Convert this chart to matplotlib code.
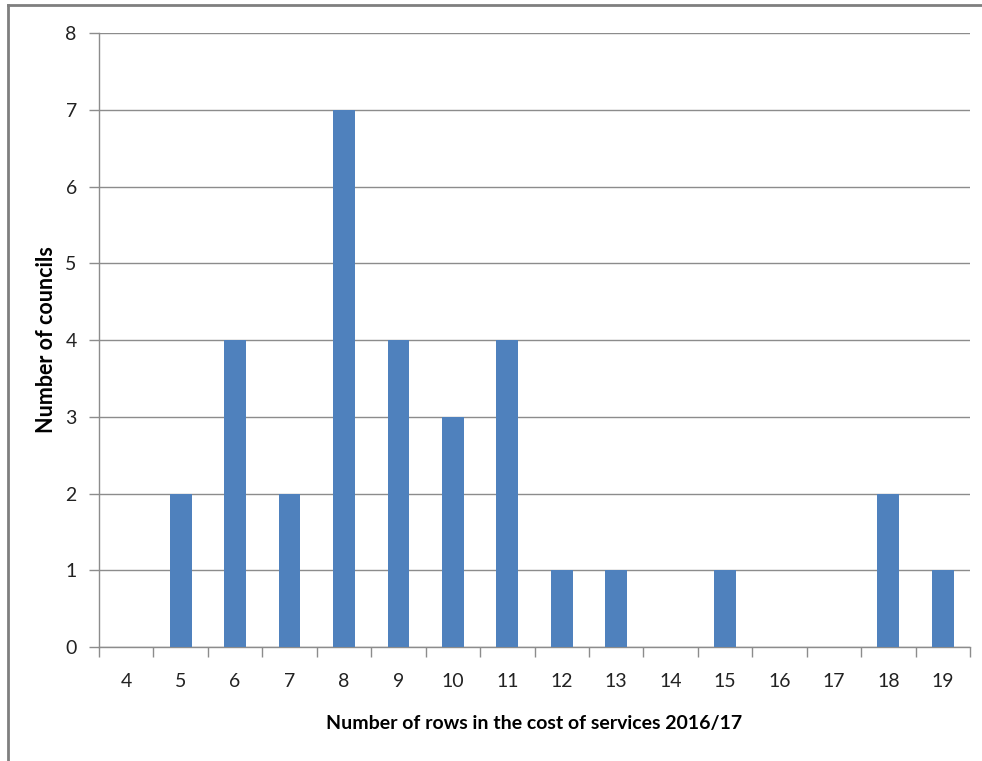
import matplotlib.pyplot as plt
import numpy as np

# rows in the cost of services table -> number of councils
rows = ['4', '5', '6', '7', '8', '9', '10', '11', '12', '13', '14', '15', '16', '17', '18', '19']
councils = [0, 2, 4, 2, 7, 4, 3, 4, 1, 1, 0, 1, 0, 0, 2, 1]

plt.rcParams['font.family'] = ['Lato', 'DejaVu Sans']

fig = plt.figure(figsize=(9.82, 7.61), dpi=100)
ax = fig.add_axes([0.1008, 0.1498, 0.8870, 0.8068])

x = np.arange(len(rows))
ax.bar(x, councils, width=0.4, color='#4f81bd', zorder=3)

grey = '#8c8c8c'
ax.set_xlim(-0.5, len(rows) - 0.5)
ax.set_ylim(0, 8)
ax.set_yticks(range(0, 9))
ax.yaxis.grid(True, color=grey, linewidth=1.0, zorder=0)

# ticks on the category boundaries, labels in the middle
ax.set_xticks(np.arange(-0.5, len(rows), 1.0))
ax.set_xticklabels([])
ax.set_xticks(x, minor=True)
ax.set_xticklabels(rows, minor=True)
ax.tick_params(axis='x', which='major', length=7, color=grey, width=1)
ax.tick_params(axis='x', which='minor', length=0, pad=19, labelsize=14, labelcolor='#222222')
ax.tick_params(axis='y', length=7, color=grey, width=1, pad=9, labelsize=14, labelcolor='#222222')

for side in ['top', 'right']:
    ax.spines[side].set_visible(False)
for side in ['left', 'bottom']:
    ax.spines[side].set_color(grey)
    ax.spines[side].set_linewidth(1.0)

ax.set_xlabel('Number of rows in the cost of services 2016/17', fontsize=14,
              fontweight='bold', labelpad=18)
ax.set_ylabel('Number of councils', fontsize=15.5, fontweight='bold', labelpad=6)

# page frame around the chart
fig.add_artist(plt.Line2D([8 / 982, 1], [1 - 5 / 761, 1 - 5 / 761], color='#7f7f7f', linewidth=2))
fig.add_artist(plt.Line2D([8 / 982, 8 / 982], [0, 1 - 5 / 761], color='#7f7f7f', linewidth=2))

fig.savefig('out.png', dpi=100)
